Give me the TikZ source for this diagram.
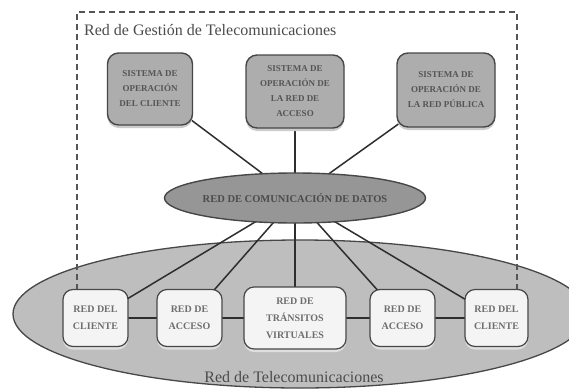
\documentclass[tikz,border=0pt]{standalone}
\usepackage{fontspec}
\setmainfont{Liberation Serif}
\usetikzlibrary{shapes.geometric,shadows}

\definecolor{edge}{HTML}{474747}
\definecolor{sysfill}{HTML}{ADADAD}
\definecolor{dcnfill}{HTML}{969696}
\definecolor{telfill}{HTML}{BEBEBE}
\definecolor{netfill}{HTML}{F4F4F4}
\definecolor{inkgray}{HTML}{555555}
\definecolor{wire}{HTML}{2E2E2E}
\definecolor{frame}{HTML}{555555}

\pgfdeclarelayer{back}
\pgfdeclarelayer{wires}
\pgfsetlayers{back,wires,main}

\begin{document}
\begin{tikzpicture}[x=1pt,y=-1pt,
  sysbox/.style={rectangle, rounded corners=11pt, draw=edge, line width=1.4pt,
    fill=sysfill, text=inkgray, align=center, inner sep=0pt,
    font=\fontsize{9}{15}\selectfont\bfseries,
    drop shadow={shadow xshift=0pt, shadow yshift=-3pt, fill=gray!40, opacity=1}},
  netbox/.style={rectangle, rounded corners=10pt, draw=edge, line width=1.2pt,
    fill=netfill, text=inkgray!85, align=center, inner sep=0pt,
    font=\fontsize{10}{17}\selectfont\bfseries,
    drop shadow={shadow xshift=0pt, shadow yshift=-3pt, fill=gray!25, opacity=1}},
  dcnnet/.style={ellipse, draw=edge, line width=1.4pt, fill=dcnfill,
    text=inkgray!90!black, inner sep=0pt, font=\fontsize{10.5}{13}\selectfont\bfseries},
  telnet/.style={ellipse, draw=edge, line width=1.3pt, fill=telfill, inner sep=0pt},
  caption/.style={text=inkgray!90!black, inner sep=0pt, font=\fontsize{16}{18}\selectfont},
  link/.style={draw=wire, line width=1.5pt},
  boundary/.style={draw=frame, line width=1.2pt, dash pattern=on 6pt off 4pt}
]
\useasboundingbox (0,0) rectangle (569,391);

% telecommunication network (drawn beneath everything)
\begin{pgfonlayer}{back}
  \fill[white] (0,0) rectangle (569,391);
  \node[telnet, minimum width=574pt, minimum height=148pt] (tel) at (300,314) {};
\end{pgfonlayer}

% management systems
\node[sysbox, minimum width=85pt, minimum height=72pt] (s1) at (150,89)
  {SISTEMA DE\\OPERACIÓN\\DEL CLIENTE};
\node[sysbox, minimum width=98pt, minimum height=73pt] (s2) at (295,91.5)
  {SISTEMA DE\\OPERACIÓN DE\\LA RED DE\\ACCESO};
\node[sysbox, minimum width=98pt, minimum height=74pt] (s3) at (446,90)
  {SISTEMA DE\\OPERACIÓN DE\\LA RED PÚBLICA};

% data communication network
\node[dcnnet, minimum width=217pt, minimum height=50pt] (dcn) at (295,198)
  {RED DE COMUNICACIÓN DE DATOS};

% network elements
\node[netbox, minimum width=65pt, minimum height=57pt] (n1) at (95.5,318)
  {RED DEL\\CLIENTE};
\node[netbox, minimum width=65pt, minimum height=57pt] (n2) at (189.5,318)
  {RED DE\\ACCESO};
\node[netbox, minimum width=102pt, minimum height=62pt] (n3) at (295,318)
  {RED DE\\TRÁNSITOS\\VIRTUALES};
\node[netbox, minimum width=65pt, minimum height=57pt] (n4) at (402.5,318)
  {RED DE\\ACCESO};
\node[netbox, minimum width=63pt, minimum height=57pt] (n5) at (496.5,318)
  {RED DEL\\CLIENTE};

% labels
\node[caption, anchor=west] (tmn) at (84,30) {Red de Gestión de Telecomunicaciones};
\node[caption] (tellabel) at (294,377) {Red de Telecomunicaciones};

% management boundary and connectors
\begin{pgfonlayer}{wires}
  \coordinate (bl) at (77,290);
  \coordinate (tl) at (77,12);
  \coordinate (tr) at (517,12);
  \coordinate (br) at (517,290);
  \draw[boundary] (bl) -- (tl) -- (tr) -- (br);

  \foreach \s in {s1,s2,s3}
    \draw[link] (\s.center) -- (dcn.center);
  \foreach \n in {n1,n2,n3,n4,n5}
    \draw[link] (dcn.center) -- (\n.center);
  \draw[link] (n1.center) -- (n2.center) -- (n3.center) -- (n4.center) -- (n5.center);
\end{pgfonlayer}
\end{tikzpicture}
\end{document}
